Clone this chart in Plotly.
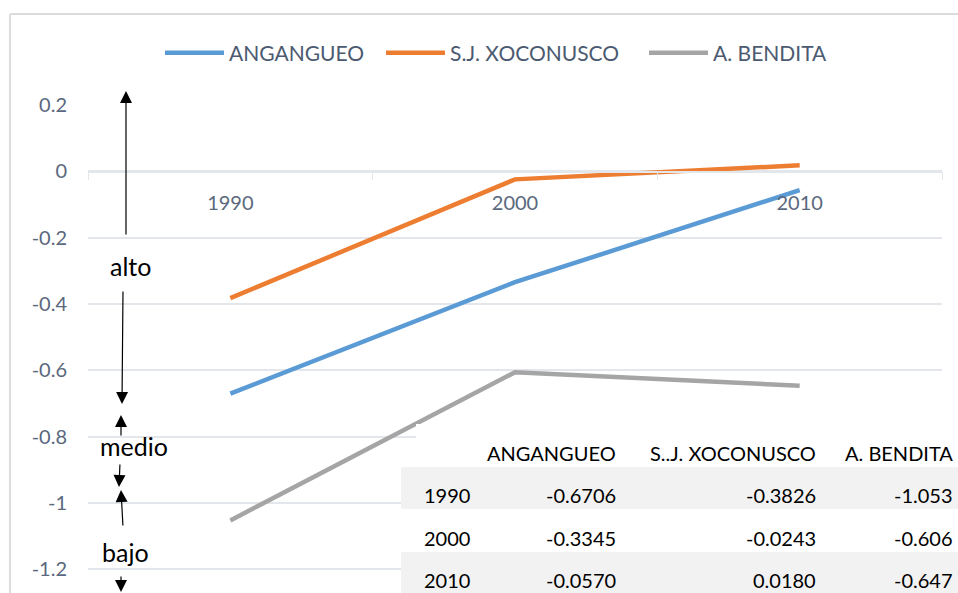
import plotly.graph_objects as go

years = ["1990", "2000", "2010"]
angangueo = [-0.6706, -0.3345, -0.0570]
xoconusco = [-0.3826, -0.0243, 0.0180]
bendita = [-1.053, -0.606, -0.647]

series_names = ["ANGANGUEO", "S.J. XOCONUSCO", "A. BENDITA"]
table_headers = ["", "ANGANGUEO", "S..J. XOCONUSCO", "A. BENDITA"]
colors = ["#5B9BD5", "#ED7D31", "#A5A5A5"]

ytick_vals = [0.2, 0, -0.2, -0.4, -0.6, -0.8, -1, -1.2]
ytick_text = ["0.2", "0", "-0.2", "-0.4", "-0.6", "-0.8", "-1", "-1.2"]

level_labels = ["alto", "medio", "bajo"]

# page geometry (body margin removed via post_script)
PAGE_W, PAGE_H = 958, 593
PL, PR, PT, PB = 88, 958, 105, 593      # plot area in page pixels
W, H = PAGE_W, PAGE_H
ML, MT = PL, PT
MR, MB = 0, 0
PW = PR - PL
PH = PB - PT
Y0, Y1 = -1.272, 0.2

def px_x(p):
    return (p - PL) / PW

def py_paper(p):
    return (PB - p) / PH

fig = go.Figure()
legend_ids = ["legend", "legend2", "legend3"]
for name, vals, col, lg in zip(series_names, [angangueo, xoconusco, bendita], colors, legend_ids):
    fig.add_trace(go.Scatter(x=years, y=vals, mode="lines", name=name, legend=lg,
                             line=dict(color=col, width=4.5)))

grid = "#E3E6EA"
legend_font = dict(family="Lato", size=21, color="#4B5A70")
legend_starts = [167, 388, 651]
legends = {}
for lg, xs in zip(legend_ids, legend_starts):
    legends[lg] = dict(orientation="h", x=px_x(xs - 7), xanchor="left",
                       y=py_paper(53), yanchor="middle", font=legend_font,
                       bgcolor="rgba(0,0,0,0)", itemwidth=59)

fig.update_layout(
    width=W, height=H,
    margin=dict(l=ML, r=MR, t=MT, b=MB),
    paper_bgcolor="white", plot_bgcolor="white",
    font=dict(family="Lato", color="#5A687D"),
    showlegend=True,
    xaxis=dict(type="category", range=[-0.5, 2.5], domain=[0, 854 / PW],
               anchor="free", position=py_paper(171.5),
               showgrid=False, showline=True, linecolor=grid, linewidth=1.5,
               ticks="outside", tickson="boundaries", ticklen=8, tickcolor=grid,
               tickfont=dict(family="Lato", size=20, color="#5A687D"),
               ticklabelstandoff=14, zeroline=False),
    yaxis=dict(range=[Y0, Y1], tickvals=ytick_vals, ticktext=ytick_text,
               showgrid=True, gridcolor=grid, gridwidth=1.5, zeroline=False,
               showline=False, ticks="", ticklabelstandoff=20,
               tickfont=dict(family="Lato", size=20, color="#5A687D")),
    **legends,
)

# chart border (top and left edges visible in the crop)
border = dict(color="#DCDCDC", width=2)
fig.add_shape(type="line", xref="paper", yref="paper", layer="below",
              x0=px_x(10), x1=px_x(1000), y0=py_paper(14), y1=py_paper(14), line=border)
fig.add_shape(type="line", xref="paper", yref="paper", layer="below",
              x0=px_x(10), x1=px_x(10), y0=py_paper(14), y1=py_paper(640), line=border)

# level annotations
text_pos = [(130, 266), (134, 446), (125, 552)]
for lab, (tx, ty) in zip(level_labels, text_pos):
    fig.add_annotation(x=px_x(tx), y=py_paper(ty), xref="paper", yref="paper",
                       xanchor="center", yanchor="middle",
                       text=lab, showarrow=False,
                       font=dict(family="Lato", size=25, color="black"))

arrows = [((126, 236), (126, 91)), ((123, 290), (122, 404)), ((121, 437), (121, 415)),
          ((120, 463), (119, 487)), ((123, 527), (121, 490)), ((121, 575), (121, 592))]
for (tx, ty), (hx, hy) in arrows:
    fig.add_annotation(x=px_x(hx), y=py_paper(hy), xref="paper", yref="paper",
                       ax=tx - hx, ay=ty - hy, text="", showarrow=True,
                       arrowhead=2, arrowsize=2, arrowwidth=1.2, arrowcolor="black")

# data table (backdrop, banded rows, cell text)
tbl_font = dict(family="Lato", size=20, color="black")
fig.add_shape(type="rect", xref="paper", yref="paper", layer="above",
              x0=px_x(416), x1=1.05, y0=py_paper(467), y1=py_paper(424),
              line_width=0, fillcolor="white")
row_bounds = [(467, 509), (509, 552), (552, 600)]
row_fill = ["#F2F2F2", "white", "#F2F2F2"]
for (r0, r1), fc in zip(row_bounds, row_fill):
    fig.add_shape(type="rect", xref="paper", yref="paper", layer="above",
                  x0=px_x(401), x1=1.05, y0=py_paper(r1), y1=py_paper(r0),
                  line_width=0, fillcolor=fc)

col_right = [472, 618, 818, 955]
header_y = 453
row_y = [495, 538, 580]
for txt, xr in zip(table_headers, col_right):
    if txt:
        fig.add_annotation(x=px_x(xr), y=py_paper(header_y), xref="paper", yref="paper",
                           xanchor="right", yanchor="middle", text=txt, showarrow=False,
                           font=tbl_font)
columns = [years,
           [f"{v:.4f}" for v in angangueo],
           [f"{v:.4f}" for v in xoconusco],
           [f"{v:.3f}" for v in bendita]]
for col_vals, xr in zip(columns, col_right):
    for txt, ry in zip(col_vals, row_y):
        fig.add_annotation(x=px_x(xr), y=py_paper(ry), xref="paper", yref="paper",
                           xanchor="right", yanchor="middle", text=txt, showarrow=False,
                           font=tbl_font)

fig.write_html("out.html", config=dict(displayModeBar=False),
               post_script="document.body.style.margin='0';document.body.style.overflow='hidden';")
